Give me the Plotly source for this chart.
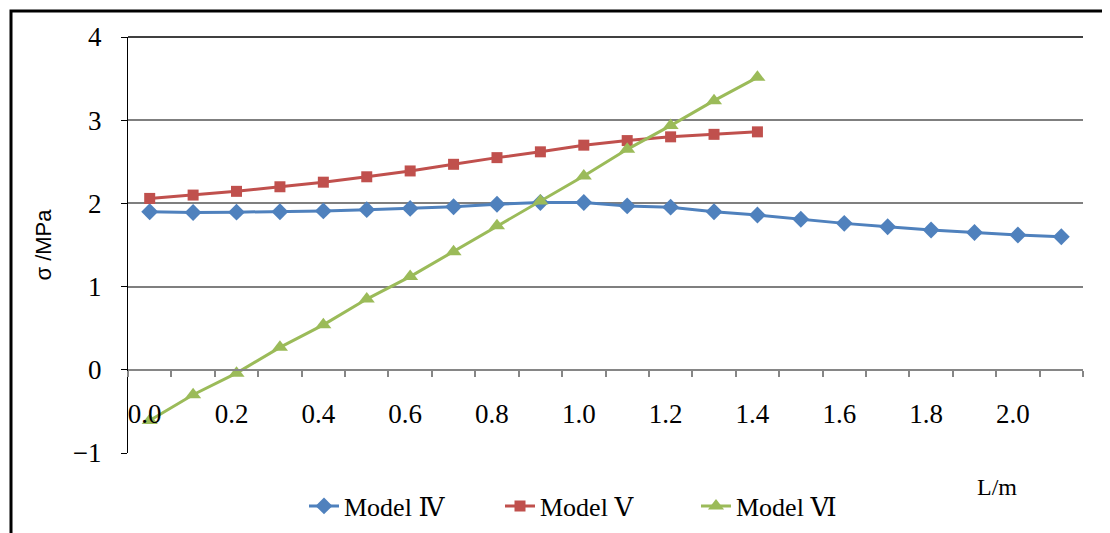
import plotly.graph_objects as go

# ---- data ----
L_cats = ["0.0", "0.1", "0.2", "0.3", "0.4", "0.5", "0.6", "0.7", "0.8", "0.9", "1.0",
          "1.1", "1.2", "1.3", "1.4", "1.5", "1.6", "1.7", "1.8", "1.9", "2.0", "2.1"]
tick_text = ["0.0", "", "0.2", "", "0.4", "", "0.6", "", "0.8", "", "1.0",
             "", "1.2", "", "1.4", "", "1.6", "", "1.8", "", "2.0", ""]
model_iv = [1.90, 1.89, 1.895, 1.90, 1.91, 1.925, 1.94, 1.96, 1.99, 2.01, 2.01,
            1.97, 1.955, 1.90, 1.86, 1.81, 1.76, 1.72, 1.68, 1.65, 1.62, 1.60]
model_v = [2.06, 2.10, 2.145, 2.20, 2.255, 2.32, 2.39, 2.47, 2.55, 2.62, 2.70,
           2.755, 2.80, 2.83, 2.86]
model_vi = [-0.61, -0.30, -0.04, 0.27, 0.54, 0.85, 1.12, 1.42, 1.73, 2.03, 2.33,
            2.65, 2.935, 3.235, 3.515]
y_ticks = [-1, 0, 1, 2, 3, 4]
y_ticktext = ["\u22121", "0", "1", "2", "3", "4"]

names = ["Model \u2163", "Model \u2164", "Model \u2165"]
colors = ["#4F81BD", "#C0504D", "#9BBB59"]
symbols = ["diamond", "square", "triangle-up"]
msizes = [13, 11, 14]
series = [model_iv, model_v, model_vi]

SERIF = "Liberation Serif, DejaVu Serif, serif"

fig = go.Figure()
for name, vals, col, sym, ms in zip(names, series, colors, symbols, msizes):
    fig.add_trace(go.Scatter(
        x=L_cats[:len(vals)], y=vals, name=name, mode="lines+markers",
        line=dict(color=col, width=3),
        marker=dict(symbol=sym, size=ms, color=col),
    ))

# page body adds an 8px offset; work in screen pixels
OFF = 8
W, H = 1110, 533
left_s, right_s, top_s, bot_s = 128, 1083, 37, 453
ml, mt = left_s - OFF, top_s - OFF
mr = W - (right_s - OFF)
mb = H - (bot_s - OFF)
pw, ph = right_s - left_s, bot_s - top_s

def px_x(p):
    return (p - left_s) / pw

def px_y(p):
    return (bot_s - p) / ph

fig.update_layout(
    width=W, height=H,
    margin=dict(l=ml, r=mr, t=mt, b=mb),
    paper_bgcolor="white", plot_bgcolor="white",
    font=dict(family=SERIF, size=26, color="#000000"),
    showlegend=True,
    legend=dict(orientation="h", x=px_x(304), xanchor="left", y=px_y(506), yanchor="middle",
                font=dict(family=SERIF + ", Noto Sans CJK SC", size=26),
                entrywidth=151, entrywidthmode="pixels", bgcolor="rgba(0,0,0,0)"),
    xaxis=dict(
        type="category", categoryorder="array", categoryarray=L_cats,
        range=[-0.5, len(L_cats) - 0.5],
        anchor="free", position=0.2,
        showline=True, linecolor="#868686", linewidth=1.5,
        ticks="outside", tickson="boundaries", ticklen=6, tickcolor="#868686", tickwidth=1.5,
        tickvals=L_cats, ticktext=tick_text, tickangle=0,
        ticklabelstandoff=20, ticklabelshift=-5,
        showgrid=False, zeroline=False,
        tickfont=dict(family=SERIF, size=27),
    ),
    yaxis=dict(
        range=[-1, 4], tickvals=y_ticks, ticktext=y_ticktext,
        showline=True, linecolor="#000000", linewidth=1,
        ticks="outside", ticklen=6, tickcolor="#000000",
        showgrid=True, gridcolor="#7F7F7F", gridwidth=1.5,
        zeroline=False, ticklabelstandoff=14,
        tickfont=dict(family=SERIF, size=27),
        title=dict(text="\u03c3 /MPa", font=dict(family="Liberation Sans, DejaVu Sans, sans-serif", size=22),
                   standoff=15),
    ),
)

# top border line of plot area and outer chart frame
fig.add_shape(type="line", xref="paper", yref="paper", x0=0, x1=1, y0=1, y1=1,
              line=dict(color="#000000", width=1.5))
fig.add_shape(type="rect", xref="paper", yref="paper",
              x0=px_x(11), x1=px_x(1130), y0=px_y(11), y1=px_y(560),
              line=dict(color="#000000", width=3))

fig.add_annotation(text="L/m", xref="paper", yref="paper", x=px_x(997), y=px_y(487),
                   xanchor="center", yanchor="middle",
                   showarrow=False, font=dict(family=SERIF, size=24))

fig.write_html("out.html")
